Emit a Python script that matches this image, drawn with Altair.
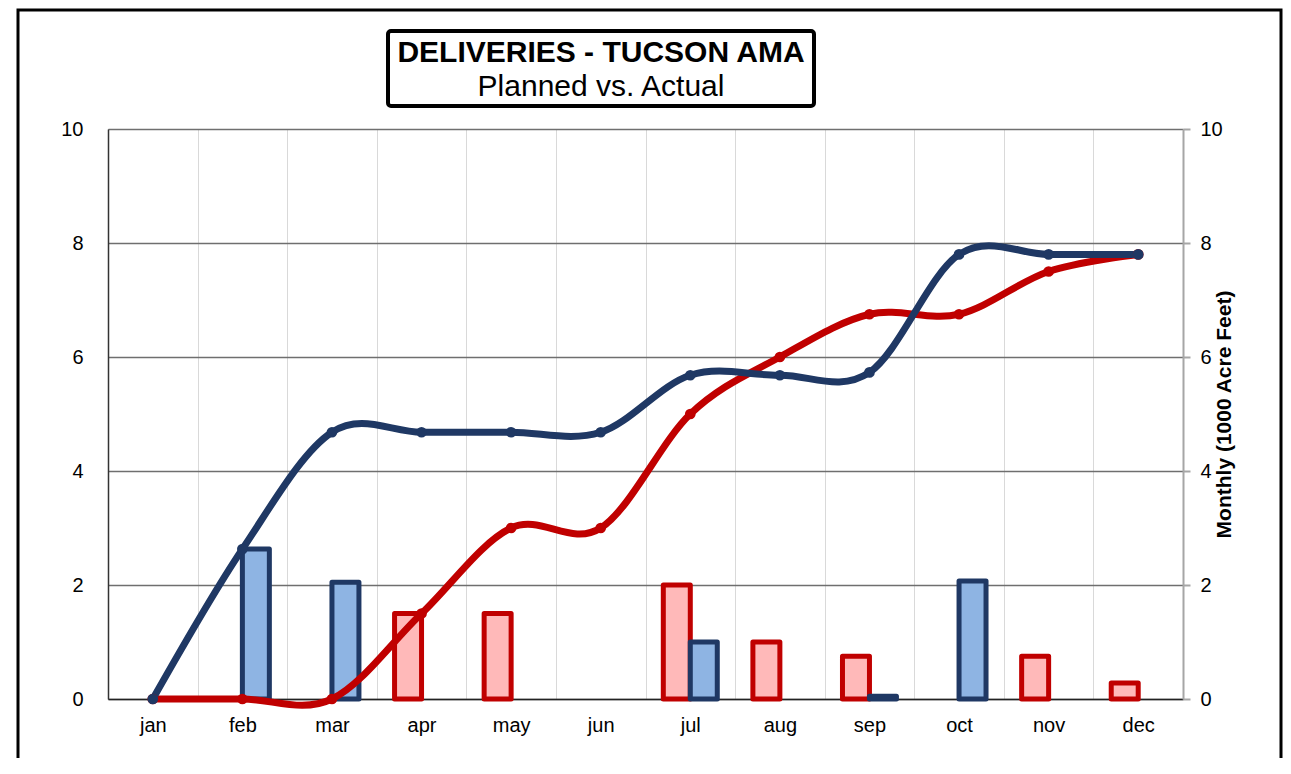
import altair as alt
import pandas as pd

months = ["jan", "feb", "mar", "apr", "may", "jun", "jul", "aug", "sep", "oct", "nov", "dec"]
planned_monthly = [0, 0, 0, 1.5, 1.5, 0, 2.0, 1.0, 0.75, 0, 0.75, 0.28]
actual_monthly = [0, 2.63, 2.05, 0, 0, 0, 1.0, 0, 0.05, 2.07, 0, 0]
planned_cum = [0, 0, 0, 1.5, 3.0, 3.0, 5.0, 6.0, 6.75, 6.75, 7.5, 7.8]
actual_cum = [0, 2.63, 4.68, 4.68, 4.68, 4.68, 5.68, 5.68, 5.73, 7.8, 7.8, 7.8]
series_names = ["Planned", "Actual"]
title_line1 = "DELIVERIES - TUCSON AMA"
title_line2 = "Planned vs. Actual"
y_title = "Monthly (1000 Acre Feet)"
y_ticks = [0, 2, 4, 6, 8, 10]

RED = "#C00000"
RED_FILL = "#FFB9B9"
BLUE = "#1F3864"
BLUE_FILL = "#8EB4E3"
FONT = "Liberation Sans"

bar_rows = []
for m, p, a in zip(months, planned_monthly, actual_monthly):
    if p > 0:
        bar_rows.append({"month": m, "series": "Planned", "value": p})
    if a > 0:
        bar_rows.append({"month": m, "series": "Actual", "value": a})
bars_df = pd.DataFrame(bar_rows)

line_rows = []
for m, p, a in zip(months, planned_cum, actual_cum):
    line_rows.append({"month": m, "series": "Planned", "cum": p})
    line_rows.append({"month": m, "series": "Actual", "cum": a})
lines_df = pd.DataFrame(line_rows)

x_scale = alt.Scale(domain=months, paddingInner=0, paddingOuter=0)
y_scale = alt.Scale(domain=[0, 10], nice=False, zero=True)
x_axis = alt.Axis(title=None, labelAngle=0, ticks=False, grid=True,
                  gridColor="#d9d9d9", gridWidth=1, tickBand="extent",
                  domainColor="#222222", domainWidth=1.5, labelFont=FONT,
                  labelFontSize=20, labelPadding=16, labelColor="black")

bars = alt.Chart(bars_df).mark_bar(strokeWidth=5, strokeJoin="round").encode(
    x=alt.X("month:N", scale=x_scale, sort=months, axis=x_axis),
    xOffset=alt.XOffset("series:N", scale=alt.Scale(domain=series_names, paddingOuter=0.66, paddingInner=0)),
    y=alt.Y("value:Q", scale=y_scale,
            axis=alt.Axis(title=None, values=y_ticks, ticks=False, domain=True,
                          domainColor="#333333", domainWidth=1.5, grid=True,
                          gridColor="#6f6f6f", gridWidth=1.3, labelPadding=25,
                          labelFont=FONT, labelFontSize=20, labelColor="black")),
    fill=alt.Fill("series:N", scale=alt.Scale(domain=series_names, range=[RED_FILL, BLUE_FILL]), legend=None),
    stroke=alt.Stroke("series:N", scale=alt.Scale(domain=series_names, range=[RED, BLUE]), legend=None),
)

lines = alt.Chart(lines_df).mark_line(
    interpolate="cardinal", strokeWidth=7,
    point=alt.OverlayMarkDef(filled=True, size=115, opacity=1),
).encode(
    x=alt.X("month:N", scale=x_scale, sort=months, axis=x_axis),
    y=alt.Y("cum:Q", scale=y_scale,
            axis=alt.Axis(orient="right", title=y_title, titleAngle=270,
                          titleFont=FONT, titleFontWeight="bold", titleFontSize=21,
                          titlePadding=12, titleColor="black", values=y_ticks,
                          ticks=True, tickSize=7, tickColor="#a6a6a6", tickWidth=2,
                          domainColor="#a6a6a6", domainWidth=2, grid=False,
                          labelPadding=10, labelFont=FONT, labelFontSize=20,
                          labelColor="black")),
    color=alt.Color("series:N", scale=alt.Scale(domain=series_names, range=[RED, BLUE]), legend=None),
)

one = pd.DataFrame({"k": [0]})

border = alt.Chart(one).mark_rect(fill="transparent", stroke="black", strokeWidth=3).encode(
    x=alt.value(-90), x2=alt.value(1173), y=alt.value(-119), y2=alt.value(720)
)

title_box = alt.Chart(one).mark_rect(fill="white", stroke="black", strokeWidth=4, cornerRadius=3).encode(
    x=alt.value(280), x2=alt.value(706), y=alt.value(-98), y2=alt.value(-23)
)

t1 = alt.Chart(one).mark_text(text=title_line1, font=FONT, fontSize=30, fontWeight="bold",
                              align="center", baseline="middle", color="black").encode(
    x=alt.value(493), y=alt.value(-76)
)
t2 = alt.Chart(one).mark_text(text=title_line2, font=FONT, fontSize=30,
                              align="center", baseline="middle", color="black").encode(
    x=alt.value(493), y=alt.value(-42)
)

chart = alt.layer(bars, lines, border, title_box, t1, t2).resolve_axis(
    y="independent"
).properties(
    width=1075, height=570,
    autosize=alt.AutoSizeParams(type="none"),
    padding={"left": 100, "top": 121, "right": 100, "bottom": 59},
).configure_view(stroke="transparent").configure(font=FONT)

chart.save("out.html", embed_options={"renderer": "svg", "actions": False})
